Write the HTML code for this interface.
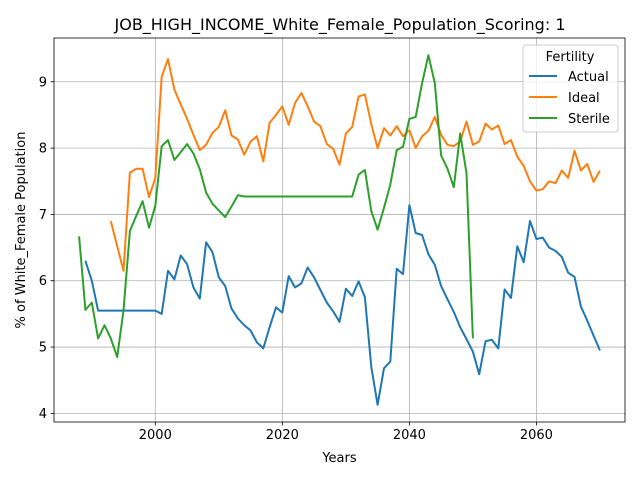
<!DOCTYPE html>
<html><head><meta charset="utf-8"><style>
body{margin:0;background:#fff}
svg{font-family:"DejaVu Sans","Liberation Sans",sans-serif}
</style></head><body>
<svg id="chart" width="640" height="480" xmlns="http://www.w3.org/2000/svg">
<rect width="640" height="480" fill="#fff"/>
<text x="340" y="30" text-anchor="middle" font-size="16">JOB_HIGH_INCOME_White_Female_Population_Scoring: 1</text>
<g id="grid"></g>
<g id="series"></g>
<rect x="54" y="38" width="571" height="384" fill="none" stroke="#000" stroke-width="0.8"/>
<g id="ticks"></g>
<text x="339.5" y="462" text-anchor="middle" font-size="13">Years</text>
<text transform="translate(25,230) rotate(-90)" text-anchor="middle" font-size="13">% of White_Female Population</text>
<g>
<rect x="523" y="45" width="95" height="87" rx="3" fill="#fff" fill-opacity="0.8" stroke="#ccc"/>
<text x="570" y="61" text-anchor="middle" font-size="13">Fertility</text>
<g><line x1="529" y1="76" x2="557" y2="76" stroke="#1f77b4" stroke-width="2"/><text x="568" y="81" font-size="13">Actual</text></g>
<g><line x1="529" y1="97" x2="557" y2="97" stroke="#ff7f0e" stroke-width="2"/><text x="568" y="102" font-size="13">Ideal</text></g>
<g><line x1="529" y1="118" x2="557" y2="118" stroke="#2ca02c" stroke-width="2"/><text x="568" y="123" font-size="13">Sterile</text></g>
</g>
</svg>
<script>
const actualStart = 1989;
const actualValues = [6.3,6.0,5.55,5.55,5.55,5.55,5.55,5.55,5.55,5.55,5.55,5.55,5.5,6.15,6.02,6.38,6.25,5.9,5.73,6.58,6.43,6.05,5.92,5.58,5.43,5.33,5.25,5.07,4.98,5.3,5.6,5.52,6.07,5.9,5.96,6.2,6.05,5.86,5.67,5.54,5.38,5.88,5.77,5.99,5.75,4.7,4.13,4.68,4.78,6.18,6.1,7.14,6.72,6.69,6.4,6.24,5.92,5.72,5.53,5.3,5.12,4.93,4.59,5.09,5.11,4.98,5.87,5.74,6.52,6.28,6.9,6.63,6.65,6.5,6.45,6.36,6.12,6.06,5.61,5.4,5.17,4.95];
const idealStart = 1993;
const idealValues = [6.9,6.52,6.15,7.63,7.69,7.69,7.26,7.55,9.08,9.34,8.88,8.66,8.44,8.2,7.97,8.05,8.23,8.32,8.57,8.19,8.13,7.9,8.1,8.18,7.8,8.38,8.5,8.63,8.35,8.68,8.83,8.63,8.4,8.33,8.06,7.99,7.75,8.22,8.32,8.78,8.81,8.36,8.0,8.3,8.19,8.33,8.18,8.27,8.0,8.18,8.26,8.47,8.2,8.05,8.03,8.1,8.4,8.05,8.1,8.37,8.28,8.34,8.06,8.12,7.87,7.73,7.5,7.36,7.38,7.5,7.47,7.66,7.55,7.96,7.66,7.76,7.49,7.66];
const sterileStart = 1988;
const sterileValues = [6.67,5.56,5.67,5.13,5.33,5.13,4.85,5.55,6.75,6.98,7.2,6.8,7.13,8.03,8.12,7.82,7.94,8.06,7.92,7.68,7.33,7.16,7.06,6.96,7.12,7.29,7.27,7.27,7.27,7.27,7.27,7.27,7.27,7.27,7.27,7.27,7.27,7.27,7.27,7.27,7.27,7.27,7.27,7.27,7.6,7.67,7.05,6.77,7.1,7.45,7.97,8.02,8.44,8.47,8.98,9.4,8.98,7.89,7.69,7.41,8.22,7.62,5.13];
const xTicks = [2000,2020,2040,2060];
const yTicks = [4,5,6,7,8,9];

const L=54,R=625,T=38,B=422, xMin=1984.05,xMax=2073.95,yMin=3.87,yMax=9.66;
const xs=v=>L+(v-xMin)/(xMax-xMin)*(R-L);
const ys=v=>B-(v-yMin)/(yMax-yMin)*(B-T);
const NS="http://www.w3.org/2000/svg";
const grid=document.getElementById('grid'),ticks=document.getElementById('ticks'),ser=document.getElementById('series');
function mk(tag,attrs,parent){const e=document.createElementNS(NS,tag);for(const k in attrs)e.setAttribute(k,attrs[k]);parent.appendChild(e);return e;}
xTicks.forEach(t=>{const x=xs(t);
 const g=mk('line',{x1:x,x2:x,y1:T,y2:B,stroke:'#b0b0b0','stroke-width':0.8},grid);
 
 
 mk('line',{x1:x,x2:x,y1:B,y2:B+3.5,stroke:'#000','stroke-width':0.8},ticks);
 const tx=mk('text',{x:x,y:B+17,'text-anchor':'middle','font-size':13},ticks);tx.textContent=t;
 
 
});
yTicks.forEach(t=>{const y=ys(t);
 const g=mk('line',{x1:L,x2:R,y1:y,y2:y,stroke:'#b0b0b0','stroke-width':0.8},grid);
 
 
 mk('line',{x1:L-3.5,x2:L,y1:y,y2:y,stroke:'#000','stroke-width':0.8},ticks);
 const tx=mk('text',{x:L-7,y:y+4.5,'text-anchor':'end','font-size':13},ticks);tx.textContent=t;
 
 
});
function line(start,vals,color,name){
 const pts=vals.map((v,i)=>xs(start+i).toFixed(1)+','+ys(v).toFixed(1)).join(' ');
 const p=mk('polyline',{points:pts,fill:'none',stroke:color,'stroke-width':2,'stroke-linejoin':'round'},ser);
 
 
}
line(actualStart,actualValues,'#1f77b4','actual-line');
line(idealStart,idealValues,'#ff7f0e','ideal-line');
line(sterileStart,sterileValues,'#2ca02c','sterile-line');
</script>
</body></html>
